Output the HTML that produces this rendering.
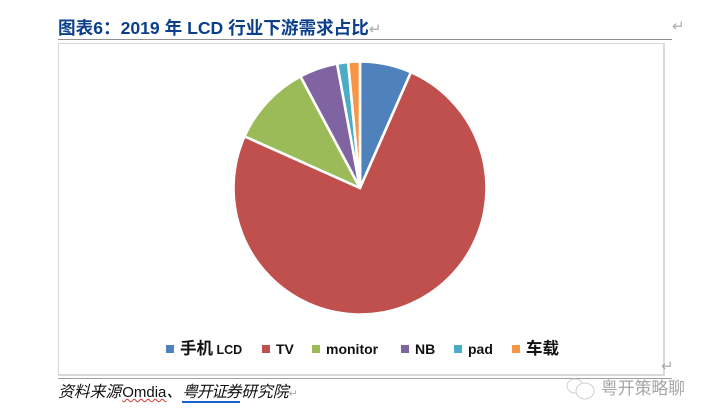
<!DOCTYPE html>
<html lang="zh">
<head>
<meta charset="utf-8">
<title>2019 年 LCD 行业下游需求占比</title>
<style>
html,body{margin:0;padding:0;background:#fff;}
#page{position:relative;width:707px;height:419px;overflow:hidden;background:#fff;font-family:"Liberation Sans","Noto Sans CJK SC",sans-serif;}
.abs{position:absolute;white-space:nowrap;}
</style>
</head>
<body>
<div id="page">
  <div class="abs" style="left:58px;top:17px;font-size:17.6px;line-height:22px;font-weight:bold;color:#0b3f8c;">图表6：2019 年 LCD 行业下游需求占比<span style="color:#aaa;font-weight:normal;font-size:15px;">↵</span></div>
  <div class="abs" style="left:58px;top:39px;width:614px;height:1px;background:#8f8f8f;"></div>
  <div class="abs" style="left:672px;top:19px;font-size:15px;line-height:16px;color:#aaa;">↵</div>
  <div class="abs" style="left:58px;top:43px;width:604px;height:330px;border:1px solid #d9d9d9;border-right-width:2px;border-bottom-width:2px;background:#fff;"></div>
  <svg class="abs" id="pie" style="left:0;top:0;" width="707" height="419" xmlns="http://www.w3.org/2000/svg"></svg>
  <div class="abs" style="left:661px;top:359px;font-size:15px;line-height:16px;color:#aaa;">↵</div>
  <div class="abs" style="left:58px;top:378px;width:614px;height:1px;background:#a0a0a0;"></div>
  <div class="abs" style="left:58px;top:383px;font-size:15.8px;line-height:20px;font-style:italic;color:#111;">资料来源<span style="font-style:normal;font-size:15px;margin-left:1px;text-decoration:underline wavy #d33;text-decoration-thickness:1px;">Omdia</span>、<span style="letter-spacing:-1.3px;border-bottom:2px solid #1a5fd0;">粤开证券</span><span style="margin-left:1px;">研究院</span><span style="color:#aaa;font-style:normal;font-size:11px;">↵</span></div>
  <svg class="abs" style="left:565px;top:376px;" width="34" height="24" xmlns="http://www.w3.org/2000/svg">
    <ellipse cx="10" cy="10" rx="8" ry="7" fill="none" stroke="#d0d0d0" stroke-width="1"/>
    <ellipse cx="20" cy="15" rx="9" ry="8" fill="#fff" stroke="#d0d0d0" stroke-width="1"/>
  </svg>
  <div class="abs" style="left:601px;top:379px;font-size:16.8px;line-height:20px;color:#a6a6a6;">粤开策略聊</div>
</div>
<script>
var categories = ['手机 LCD', 'TV', 'monitor', 'NB', 'pad', '车载'];
var shares = [6.6, 75.1, 10.5, 4.9, 1.4, 1.5];
var sliceColors = ['#4f81bd', '#c0504d', '#9bbb59', '#8064a2', '#4bacc6', '#f79646'];

var SVG_NS = 'http://www.w3.org/2000/svg';
var svg = document.getElementById('pie');
var cx = 360, cy = 188, radius = 126.5;

function angleOf(cum, total) {
  return cum / total * Math.PI * 2;
}
function polarX(a) {
  return cx + radius * Math.sin(a);
}
function polarY(a) {
  return cy - radius * Math.cos(a);
}

var total = shares.reduce(function (s, v) { return s + v; }, 0);
var running = 0;
shares.forEach(function (v, i) {
  var a0 = angleOf(running, total);
  running += v;
  var a1 = angleOf(running, total);
  var large = (a1 - a0) > Math.PI ? 1 : 0;
  var p = document.createElementNS(SVG_NS, 'path');
  p.setAttribute('d', 'M' + cx + ' ' + cy + 'L' + polarX(a0).toFixed(2) + ' ' + polarY(a0).toFixed(2) +
    'A' + radius + ' ' + radius + ' 0 ' + large + ' 1 ' + polarX(a1).toFixed(2) + ' ' + polarY(a1).toFixed(2) + 'Z');
  p.setAttribute('fill', sliceColors[i]);
  p.setAttribute('stroke', '#fff');
  p.setAttribute('stroke-width', '2.6');
  p.setAttribute('stroke-linejoin', 'round');
  
  
  svg.appendChild(p);
});

var legendSwatchX = [166, 262, 312, 401, 454, 512];
var cjkRun = /[\u4e00-\u9fff]+|[^\u4e00-\u9fff]+/g;
categories.forEach(function (name, i) {
  var r = document.createElementNS(SVG_NS, 'rect');
  r.setAttribute('x', legendSwatchX[i]);
  r.setAttribute('y', 345);
  r.setAttribute('width', 8);
  r.setAttribute('height', 8);
  r.setAttribute('fill', sliceColors[i]);
  
  
  svg.appendChild(r);
  var t = document.createElementNS(SVG_NS, 'text');
  t.setAttribute('x', legendSwatchX[i] + 14);
  t.setAttribute('y', 354);
  t.setAttribute('font-weight', 'bold');
  t.setAttribute('fill', '#111');
  t.setAttribute('font-family', '"Liberation Sans","Noto Sans CJK SC",sans-serif');
  name.match(cjkRun).forEach(function (run) {
    var s = document.createElementNS(SVG_NS, 'tspan');
    var isCjk = /[\u4e00-\u9fff]/.test(run);
    s.setAttribute('font-size', isCjk ? '16.5' : (name.length > 3 && name.length < 7 && /\s/.test(run) ? '12.5' : '14'));
    s.textContent = run;
    t.appendChild(s);
  });
  
  
  svg.appendChild(t);
});
</script>
</body>
</html>
